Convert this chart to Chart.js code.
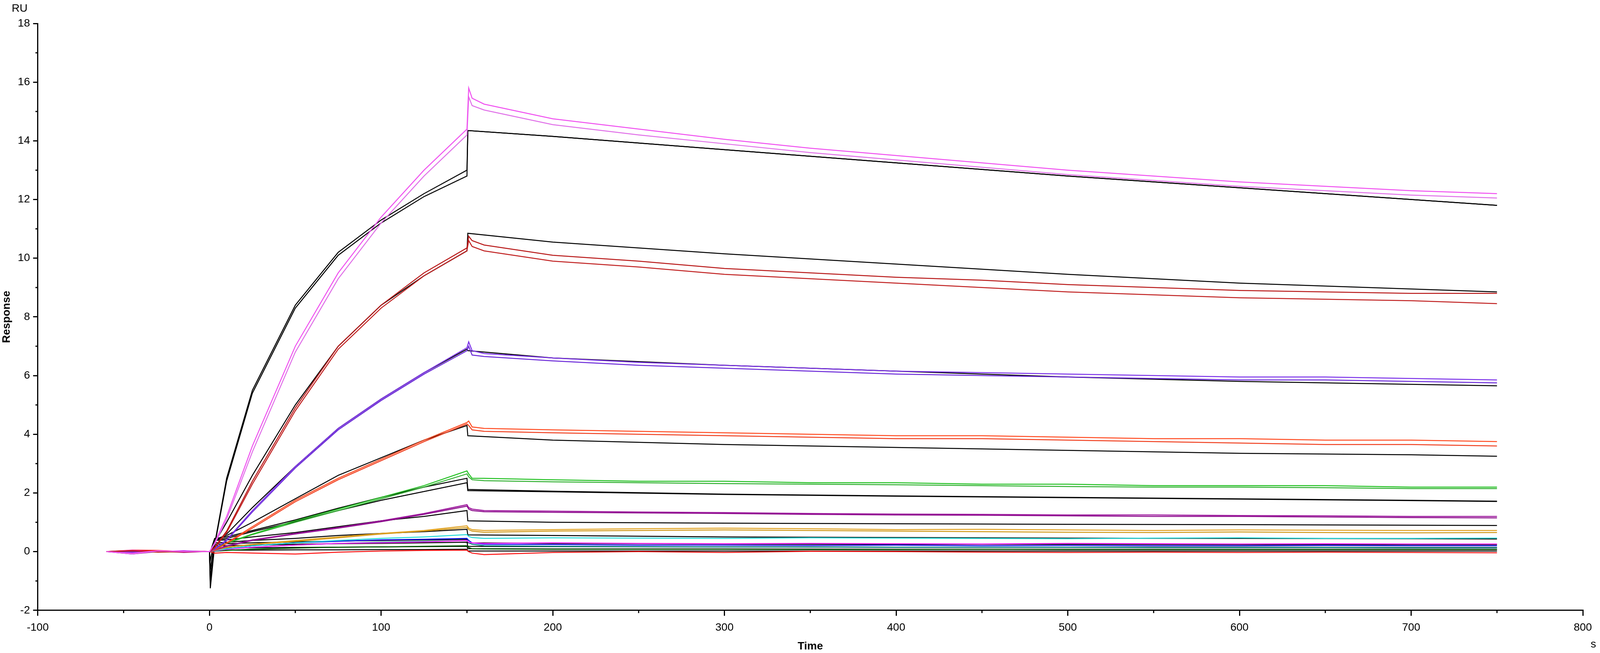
<!DOCTYPE html>
<html><head><meta charset="utf-8">
<script src="https://cdn.jsdelivr.net/npm/chart.js@4.4.0/dist/chart.umd.min.js"></script>
<style>html,body{margin:0;padding:0;background:#fff;overflow:hidden}#w{position:relative;width:100vw;height:100vh}</style>
</head><body>
<div id="w"><canvas id="c"></canvas></div>
<script>
// measured-data time points (s)
const timesData = [-60,-45,-30,-15,-3,0,3,10,25,50,75,100,125,150,151,153,160,200,250,300,350,400,450,500,550,600,650,700,750];
// fitted-curve time points (s)
const timesFit = [0,0.5,3,10,25,50,75,100,125,150,150.5,200,300,400,500,600,700,750];

const magentaA = [0,-0.05,0.03,0,0.01,0,0.3,1.2,3.6,7.0,9.5,11.4,13.0,14.4,15.8,15.45,15.25,14.75,14.4,14.05,13.75,13.5,13.25,13.0,12.8,12.6,12.45,12.3,12.2];
const magentaB = [0,-0.08,0.02,0.01,0,0,0.25,1.1,3.4,6.8,9.3,11.2,12.8,14.2,15.5,15.2,15.05,14.55,14.2,13.9,13.6,13.35,13.1,12.85,12.65,12.45,12.3,12.15,12.05];
const redA = [0,0.03,-0.02,0,0.01,0,0.15,0.7,2.4,4.9,7.0,8.4,9.5,10.35,10.75,10.6,10.45,10.1,9.9,9.65,9.5,9.35,9.25,9.1,9.0,8.9,8.85,8.8,8.8];
const redB = [0,0.02,0.01,-0.01,0,0,0.12,0.65,2.3,4.8,6.9,8.3,9.4,10.25,10.6,10.4,10.25,9.9,9.7,9.45,9.3,9.15,9.0,8.85,8.75,8.65,8.6,8.55,8.45];
const violetA = [0,0.01,0,0.02,0,0,0.1,0.4,1.4,2.9,4.2,5.2,6.1,6.95,7.15,6.85,6.75,6.6,6.45,6.35,6.25,6.15,6.1,6.05,6.0,5.95,5.95,5.9,5.85];
const violetB = [0,-0.02,0.01,0,0,0,0.08,0.38,1.35,2.85,4.15,5.15,6.05,6.85,7.0,6.7,6.65,6.5,6.35,6.25,6.15,6.05,6.0,5.95,5.9,5.85,5.85,5.8,5.75];
const orangeA = [0,0.01,0,-0.01,0,0,0.05,0.3,0.85,1.75,2.5,3.15,3.8,4.4,4.45,4.25,4.2,4.15,4.1,4.05,4.0,3.95,3.95,3.9,3.85,3.85,3.8,3.8,3.75];
const orangeB = [0,0,0.01,0,0,0,0.05,0.28,0.8,1.7,2.45,3.1,3.75,4.35,4.3,4.15,4.1,4.05,4.0,3.95,3.9,3.85,3.85,3.8,3.75,3.7,3.65,3.65,3.6];
const greenA = [0,0.02,0,0.01,0,0,0.1,0.3,0.6,1.05,1.45,1.85,2.25,2.75,2.65,2.5,2.5,2.45,2.4,2.4,2.35,2.35,2.3,2.3,2.25,2.25,2.25,2.2,2.2];
const greenB = [0,0,-0.01,0,0,0,0.08,0.28,0.58,1.0,1.4,1.8,2.2,2.65,2.55,2.45,2.42,2.38,2.35,2.32,2.3,2.28,2.25,2.22,2.2,2.2,2.18,2.15,2.15];
const purpleA = [0,-0.05,0.02,-0.03,0,0,0.05,0.2,0.4,0.62,0.82,1.05,1.3,1.6,1.5,1.45,1.4,1.38,1.35,1.33,1.3,1.28,1.27,1.25,1.25,1.23,1.22,1.2,1.2];
const purpleB = [0,-0.08,0,0.02,0,0,0.05,0.18,0.38,0.6,0.8,1.02,1.27,1.55,1.45,1.4,1.36,1.34,1.32,1.3,1.27,1.25,1.24,1.22,1.2,1.2,1.18,1.16,1.15];
const goldA = [0,0,0.02,0,0,0,0.05,0.15,0.25,0.38,0.5,0.62,0.72,0.88,0.8,0.75,0.72,0.75,0.78,0.8,0.78,0.75,0.76,0.74,0.72,0.74,0.73,0.72,0.72];
const goldB = [0,0.01,0,0.01,0,0,0.04,0.14,0.24,0.35,0.47,0.6,0.7,0.82,0.75,0.7,0.66,0.7,0.72,0.74,0.72,0.7,0.68,0.66,0.65,0.67,0.65,0.64,0.65];
const cyanA = [0,0,0.01,0,0,0,0.03,0.1,0.2,0.3,0.38,0.45,0.5,0.58,0.52,0.48,0.45,0.47,0.46,0.45,0.47,0.46,0.45,0.44,0.46,0.47,0.45,0.45,0.46];
const pinkA = [0,0.04,0,0.03,0,0,0.02,0.08,0.15,0.22,0.28,0.3,0.33,0.38,0.32,0.3,0.28,0.3,0.28,0.27,0.28,0.27,0.26,0.28,0.27,0.26,0.27,0.26,0.26];
const blueA = [0,0,0,0.01,0,0,0.03,0.1,0.2,0.3,0.35,0.4,0.42,0.45,0.38,0.3,0.25,0.24,0.22,0.22,0.21,0.22,0.2,0.21,0.2,0.2,0.21,0.2,0.2];
const tealA = [0,0.01,0,0,0,0,0.02,0.08,0.15,0.22,0.28,0.32,0.35,0.38,0.3,0.25,0.2,0.18,0.17,0.16,0.16,0.15,0.15,0.15,0.14,0.14,0.14,0.13,0.13];
const dkgreenA = [0,-0.02,0,0,0,0,0.01,0.04,0.08,0.12,0.15,0.16,0.18,0.2,0.14,0.1,0.09,0.08,0.08,0.08,0.07,0.07,0.08,0.07,0.07,0.07,0.07,0.07,0.07];
const redLowA = [0,0.05,0.04,0,0,0,-0.05,-0.03,-0.05,-0.08,-0.02,0.02,0.04,0.05,0.0,-0.05,-0.1,-0.03,0,-0.03,0.01,0,-0.02,-0.03,-0.02,-0.03,-0.02,-0.03,-0.04];

const fitTopA = [0,-1.25,0.2,2.4,5.4,8.3,10.1,11.2,12.1,12.8,14.35,14.15,13.7,13.25,12.8,12.4,12.0,11.8];
const fitTopB = [0,-1.1,0.25,2.5,5.5,8.4,10.2,11.3,12.2,13.0,14.35,14.15,13.7,13.25,12.8,12.4,12.0,11.8];
const fitRed = [0,-0.9,0.3,1.0,2.6,5.0,7.0,8.4,9.4,10.25,10.85,10.55,10.15,9.8,9.45,9.15,8.95,8.85];
const fitViolet = [0,-0.6,0.35,0.6,1.5,2.9,4.2,5.2,6.1,6.9,6.85,6.6,6.35,6.15,5.95,5.8,5.7,5.65];
const fitOrange = [0,-0.3,0.42,0.55,1.0,1.8,2.6,3.2,3.8,4.3,3.95,3.8,3.65,3.55,3.45,3.35,3.3,3.25];
const fitGreenA = [0,0,0.45,0.5,0.72,1.08,1.48,1.85,2.2,2.5,2.12,2.06,1.96,1.9,1.85,1.8,1.75,1.72];
const fitGreenB = [0,0,0.4,0.45,0.68,1.02,1.4,1.75,2.05,2.35,2.08,2.04,1.95,1.89,1.84,1.79,1.74,1.71];
const fitPurple = [0,0,0.38,0.4,0.5,0.65,0.85,1.05,1.2,1.4,1.05,1.0,0.97,0.95,0.93,0.92,0.9,0.89];
const fitGold = [0,0,0.3,0.32,0.38,0.45,0.55,0.62,0.68,0.76,0.57,0.55,0.5,0.48,0.46,0.45,0.44,0.43];
const fitLowA = [0,0,0.25,0.27,0.3,0.33,0.36,0.38,0.4,0.42,0.3,0.28,0.26,0.25,0.25,0.24,0.24,0.24];
const fitLowB = [0,0,0.2,0.2,0.22,0.25,0.27,0.28,0.3,0.32,0.18,0.17,0.16,0.15,0.15,0.15,0.14,0.14];
const fitLowC = [0,0,0.12,0.12,0.13,0.14,0.15,0.16,0.17,0.18,0.1,0.09,0.09,0.08,0.08,0.08,0.08,0.08];
const fitLowD = [0,0,0.05,0.05,0.05,0.06,0.06,0.07,0.07,0.08,0.02,0.02,0.02,0.02,0.02,0.02,0.02,0.02];

const dataSeries = [
  [magentaA,'#f050f0'],[magentaB,'#e070e8'],[redA,'#b81818'],[redB,'#c02020'],
  [violetA,'#7a30e8'],[violetB,'#6a28d8'],[orangeA,'#ff4a20'],[orangeB,'#f04020'],
  [greenA,'#20c020'],[greenB,'#30b030'],[purpleA,'#9a109a'],[purpleB,'#8a0a8a'],
  [goldA,'#e0a020'],[goldB,'#d09818'],[cyanA,'#20d8d8'],[pinkA,'#ff20ff'],
  [blueA,'#1010f0'],[tealA,'#008080'],[dkgreenA,'#005a00'],[redLowA,'#ff1010']
];
const fitSeries = [fitTopA,fitTopB,fitRed,fitViolet,fitOrange,fitGreenA,fitGreenB,fitPurple,fitGold,fitLowA,fitLowB,fitLowC,fitLowD];

const datasets = [];
dataSeries.forEach(([v,c])=>datasets.push({data:timesData.map((t,i)=>({x:t,y:v[i]})),borderColor:c,borderWidth:2.5,pointRadius:0,tension:0}));
fitSeries.forEach(v=>datasets.push({data:timesFit.map((t,i)=>({x:t,y:v[i]})),borderColor:'#000',borderWidth:2.5,pointRadius:0,tension:0}));

const font = {family:'Liberation Sans, Arial', size:28};
const extra = {id:'extra', afterDraw(ch){
  const g=ch.ctx, a=ch.chartArea, x=ch.scales.x, y=ch.scales.y;
  g.save(); g.strokeStyle='#000'; g.lineWidth=3;
  for(let v=-1; v<=17; v+=2){const py=y.getPixelForValue(v); g.beginPath(); g.moveTo(a.left-6,py); g.lineTo(a.left,py); g.stroke();}
  for(let v=-50; v<=750; v+=100){const px=x.getPixelForValue(v); g.beginPath(); g.moveTo(px,a.bottom); g.lineTo(px,a.bottom+7); g.stroke();}
  g.fillStyle='#000'; g.font='28px Liberation Sans, Arial'; g.textAlign='left'; g.textBaseline='middle';
  g.fillText('RU', 30, 22);
  g.textAlign='right'; g.fillText('s', ch.width-10, ch.height-22);
  g.restore();
}};

new Chart(document.getElementById('c'), {
  type:'line',
  data:{datasets},
  options:{
    responsive:true, maintainAspectRatio:false, animation:false,
    layout:{padding:{top:60,right:44,left:0,bottom:0}},
    plugins:{legend:{display:false},tooltip:{enabled:false}},
    scales:{
      x:{type:'linear',min:-100,max:800,
        ticks:{stepSize:100,autoSkip:false,color:'#000',font,padding:14},
        grid:{drawOnChartArea:false,color:'#000',lineWidth:3,tickLength:14,tickColor:'#000'},
        border:{color:'#000',width:3},
        title:{display:true,text:'Time',color:'#000',font:{family:'Liberation Sans, Arial',size:28,weight:'bold'},padding:{top:0,bottom:0}}},
      y:{type:'linear',min:-2,max:18,
        ticks:{stepSize:2,color:'#000',font,padding:8},
        grid:{drawOnChartArea:false,color:'#000',lineWidth:3,tickLength:12,tickColor:'#000'},
        border:{color:'#000',width:3},
        title:{display:true,text:'Response',color:'#000',font:{family:'Liberation Sans, Arial',size:28,weight:'bold'},padding:{top:0,bottom:4}}}
    }
  },
  plugins:[extra]
});
</script>
</body></html>
